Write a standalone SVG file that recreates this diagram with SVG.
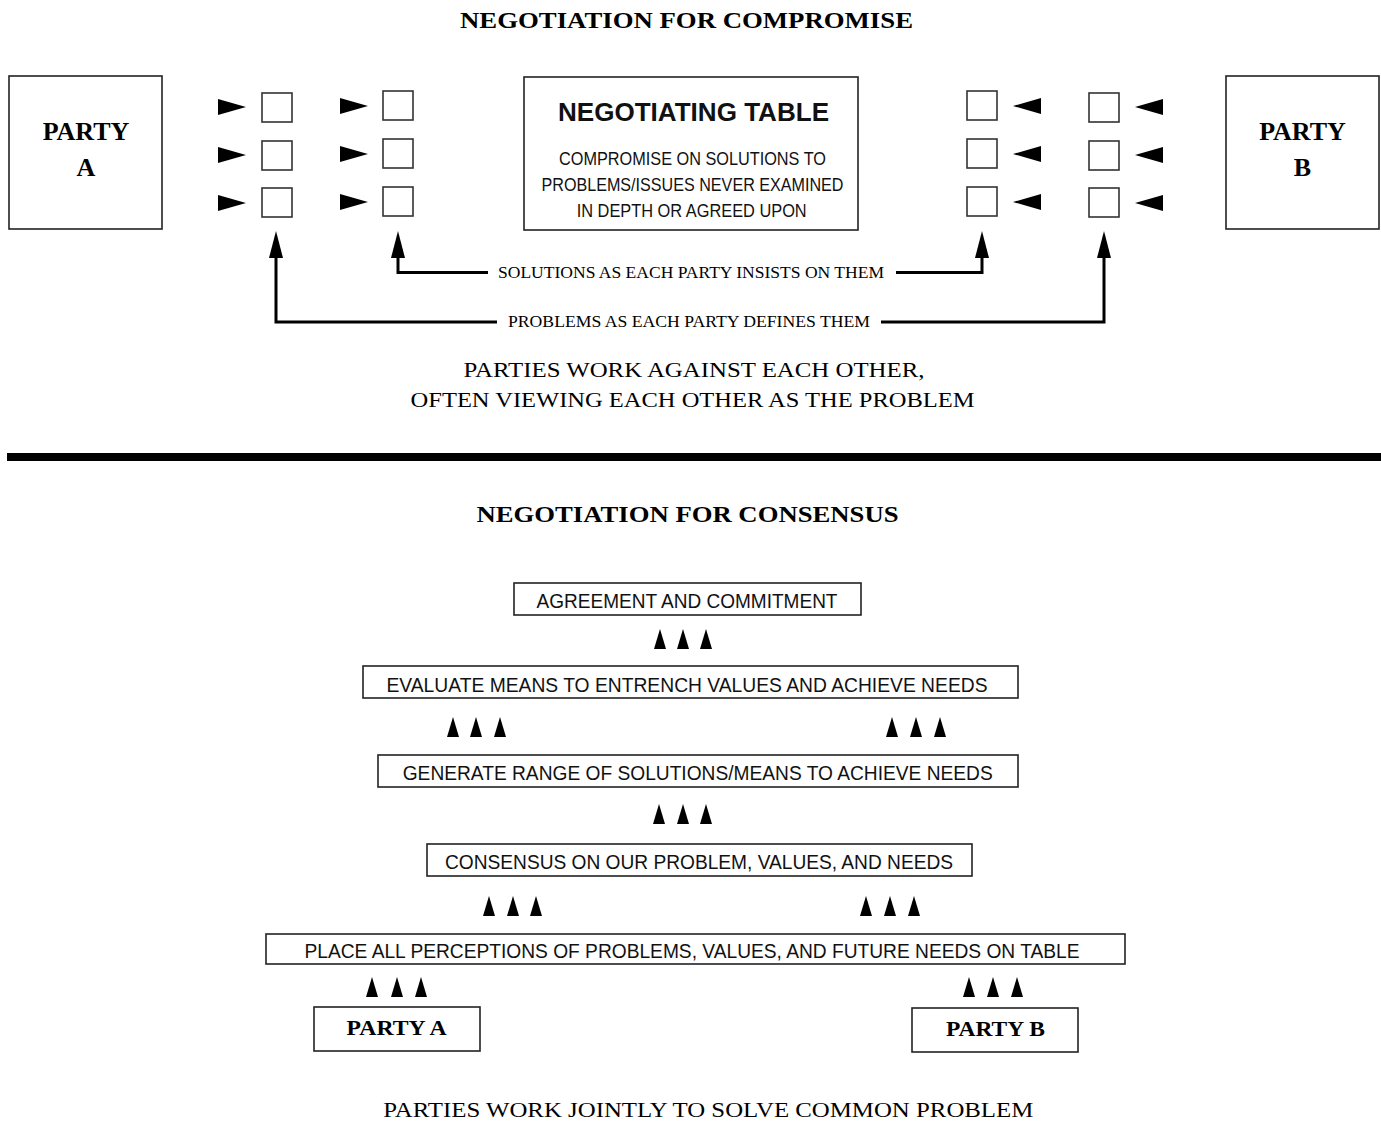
<svg xmlns="http://www.w3.org/2000/svg" width="1381" height="1122" viewBox="0 0 1381 1122">
<style>
.box{fill:#fff;stroke:#222;stroke-width:1.6}
.sq{fill:#fff;stroke:#333;stroke-width:1.6}
.ser{font-family:"Liberation Serif","Times New Roman",serif;fill:#000}
.serb{font-family:"Liberation Serif","Times New Roman",serif;font-weight:bold;fill:#000}
.sans{font-family:"Liberation Sans",Arial,sans-serif;fill:#111}
.conn{fill:none;stroke:#000;stroke-width:3}
.ah{fill:#000}
</style>
<defs>
<path id="rarr" d="M0,-8 L28,0 L0,8 Z"/>
<path id="larr" d="M0,-8 L-28,0 L0,8 Z"/>
<path id="up" d="M0,0 L6,20 L-6,20 Z"/>
<path id="uph" d="M0,0 L7,27 L-7,27 Z"/>
</defs>
<rect width="1381" height="1122" fill="#fff"/>

<!-- Top section -->
<text id="title-compromise" class="serb" x="686.5" y="28" font-size="23" text-anchor="middle" textLength="453" lengthAdjust="spacingAndGlyphs">NEGOTIATION FOR COMPROMISE</text>

<g id="partyA-top">
<rect class="box" x="9" y="76" width="153" height="153"/>
<text class="serb" x="86" y="140" font-size="26" text-anchor="middle">PARTY</text>
<text class="serb" x="86" y="176" font-size="26" text-anchor="middle">A</text>
</g>

<g id="partyB-top">
<rect class="box" x="1226" y="76" width="153" height="153"/>
<text class="serb" x="1302.5" y="140" font-size="26" text-anchor="middle">PARTY</text>
<text class="serb" x="1302.5" y="176" font-size="26" text-anchor="middle">B</text>
</g>

<g id="negotiating-table">
<rect class="box" x="524" y="77" width="334" height="153"/>
<text class="sans" x="693.5" y="121" font-size="25" font-weight="bold" text-anchor="middle" textLength="271" lengthAdjust="spacingAndGlyphs">NEGOTIATING TABLE</text>
<text class="sans" x="692.5" y="165" font-size="19" text-anchor="middle" textLength="267" lengthAdjust="spacingAndGlyphs">COMPROMISE ON SOLUTIONS TO</text>
<text class="sans" x="692.5" y="191" font-size="19" text-anchor="middle" textLength="302" lengthAdjust="spacingAndGlyphs">PROBLEMS/ISSUES NEVER EXAMINED</text>
<text class="sans" x="691.7" y="216.5" font-size="19" text-anchor="middle" textLength="230" lengthAdjust="spacingAndGlyphs">IN DEPTH OR AGREED UPON</text>
</g>

<g id="issues-A">
<rect class="sq" x="262" y="93" width="30" height="29"/>
<rect class="sq" x="262" y="141" width="30" height="29"/>
<rect class="sq" x="262" y="188" width="30" height="29"/>
<rect class="sq" x="383" y="91" width="30" height="29"/>
<rect class="sq" x="383" y="139" width="30" height="29"/>
<rect class="sq" x="383" y="187" width="30" height="29"/>
<use href="#rarr" class="ah" x="218" y="107"/>
<use href="#rarr" class="ah" x="218" y="155"/>
<use href="#rarr" class="ah" x="218" y="203"/>
<use href="#rarr" class="ah" x="340" y="106"/>
<use href="#rarr" class="ah" x="340" y="154"/>
<use href="#rarr" class="ah" x="340" y="202"/>
</g>

<g id="issues-B">
<rect class="sq" x="967" y="91" width="30" height="29"/>
<rect class="sq" x="967" y="139" width="30" height="29"/>
<rect class="sq" x="967" y="187" width="30" height="29"/>
<rect class="sq" x="1089" y="93" width="30" height="29"/>
<rect class="sq" x="1089" y="141" width="30" height="29"/>
<rect class="sq" x="1089" y="188" width="30" height="29"/>
<use href="#larr" class="ah" x="1041" y="106"/>
<use href="#larr" class="ah" x="1041" y="154"/>
<use href="#larr" class="ah" x="1041" y="202"/>
<use href="#larr" class="ah" x="1163" y="107"/>
<use href="#larr" class="ah" x="1163" y="155"/>
<use href="#larr" class="ah" x="1163" y="203"/>
</g>

<g id="connectors">
<path class="conn" d="M398,256 V272.5 H488"/>
<path class="conn" d="M896,272.5 H982 V256"/>
<path class="conn" d="M276,256 V322 H497"/>
<path class="conn" d="M881,322 H1104 V256"/>
<use href="#uph" class="ah" x="276" y="231"/>
<use href="#uph" class="ah" x="398" y="231"/>
<use href="#uph" class="ah" x="982" y="231"/>
<use href="#uph" class="ah" x="1104" y="231"/>
</g>

<text class="ser" x="691" y="278" font-size="16.5" text-anchor="middle" textLength="386" lengthAdjust="spacingAndGlyphs">SOLUTIONS AS EACH PARTY INSISTS ON THEM</text>
<text class="ser" x="689" y="327" font-size="16.5" text-anchor="middle" textLength="362" lengthAdjust="spacingAndGlyphs">PROBLEMS AS EACH PARTY DEFINES THEM</text>

<text class="ser" x="694" y="377" font-size="20.5" text-anchor="middle" textLength="461" lengthAdjust="spacingAndGlyphs">PARTIES WORK AGAINST EACH OTHER,</text>
<text class="ser" x="692.6" y="407" font-size="20.5" text-anchor="middle" textLength="564" lengthAdjust="spacingAndGlyphs">OFTEN VIEWING EACH OTHER AS THE PROBLEM</text>

<rect id="divider" x="7" y="453" width="1374" height="8" fill="#000"/>

<!-- Bottom section -->
<text id="title-consensus" class="serb" x="687.5" y="522" font-size="23" text-anchor="middle" textLength="422" lengthAdjust="spacingAndGlyphs">NEGOTIATION FOR CONSENSUS</text>

<g id="agreement">
<rect class="box" x="514" y="583" width="347" height="32"/>
<text class="sans" x="687" y="608" font-size="20" text-anchor="middle" textLength="301" lengthAdjust="spacingAndGlyphs">AGREEMENT AND COMMITMENT</text>
</g>
<g id="evaluate">
<rect class="box" x="363" y="666" width="655" height="32"/>
<text class="sans" x="687" y="692" font-size="20" text-anchor="middle" textLength="601" lengthAdjust="spacingAndGlyphs">EVALUATE MEANS TO ENTRENCH VALUES AND ACHIEVE NEEDS</text>
</g>
<g id="generate">
<rect class="box" x="378" y="755" width="640" height="32"/>
<text class="sans" x="697.7" y="780" font-size="20" text-anchor="middle" textLength="590" lengthAdjust="spacingAndGlyphs">GENERATE RANGE OF SOLUTIONS/MEANS TO ACHIEVE NEEDS</text>
</g>
<g id="consensus">
<rect class="box" x="427" y="844" width="545" height="32"/>
<text class="sans" x="699" y="869" font-size="20" text-anchor="middle" textLength="508" lengthAdjust="spacingAndGlyphs">CONSENSUS ON OUR PROBLEM, VALUES, AND NEEDS</text>
</g>
<g id="place">
<rect class="box" x="266" y="934" width="859" height="30"/>
<text class="sans" x="692" y="958" font-size="20" text-anchor="middle" textLength="775" lengthAdjust="spacingAndGlyphs">PLACE ALL PERCEPTIONS OF PROBLEMS, VALUES, AND FUTURE NEEDS ON TABLE</text>
</g>
<g id="partyA-bottom">
<rect class="box" x="314" y="1007" width="166" height="44"/>
<text class="serb" x="396.6" y="1035" font-size="22" text-anchor="middle" textLength="100" lengthAdjust="spacingAndGlyphs">PARTY A</text>
</g>
<g id="partyB-bottom">
<rect class="box" x="912" y="1008" width="166" height="44"/>
<text class="serb" x="995.4" y="1036" font-size="22" text-anchor="middle" textLength="99" lengthAdjust="spacingAndGlyphs">PARTY B</text>
</g>

<g id="consensus-arrows" class="ah">
<use href="#up" x="660" y="629"/><use href="#up" x="683" y="629"/><use href="#up" x="706" y="629"/>
<use href="#up" x="453" y="717"/><use href="#up" x="476" y="717"/><use href="#up" x="500" y="717"/>
<use href="#up" x="892" y="717"/><use href="#up" x="916" y="717"/><use href="#up" x="940" y="717"/>
<use href="#up" x="659" y="804"/><use href="#up" x="683" y="804"/><use href="#up" x="706" y="804"/>
<use href="#up" x="489" y="896"/><use href="#up" x="513" y="896"/><use href="#up" x="536" y="896"/>
<use href="#up" x="866" y="896"/><use href="#up" x="890" y="896"/><use href="#up" x="914" y="896"/>
<use href="#up" x="372" y="977"/><use href="#up" x="397" y="977"/><use href="#up" x="421" y="977"/>
<use href="#up" x="969" y="977"/><use href="#up" x="993" y="977"/><use href="#up" x="1017" y="977"/>
</g>

<text class="ser" x="708.3" y="1117" font-size="21" text-anchor="middle" textLength="650" lengthAdjust="spacingAndGlyphs">PARTIES WORK JOINTLY TO SOLVE COMMON PROBLEM</text>
</svg>
